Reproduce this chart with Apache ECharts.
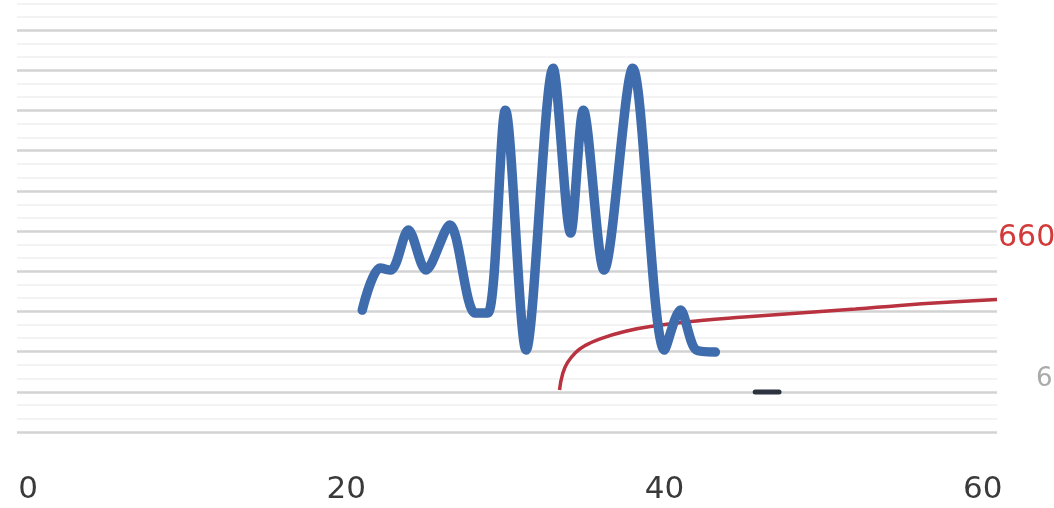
<!DOCTYPE html>
<html>
<head>
<meta charset="utf-8">
<script src="https://cdn.jsdelivr.net/npm/echarts@6/dist/echarts.min.js"></script>
<style>
  html, body { margin: 0; padding: 0; background: #ffffff; }
  #chart { width: 1054px; height: 508px; }
</style>
</head>
<body>
<div id="chart"></div>
<script>
// x-axis tick labels
var xTicks = [0, 20, 40, 60];

// Blue measurement trace: [x, y]
var blueX = [21.0, 22.1, 22.8, 23.9, 25.0, 26.5, 28.1, 28.9, 30.0, 31.3, 33.0, 34.1, 34.9, 36.2, 38.0, 40.0, 41.0, 42.0, 43.2];
var blueY = [607, 816, 806, 1005, 806, 1030, 592, 592, 1602, 408, 1810, 990, 1602, 806, 1810, 408, 607, 408, 398];

// Red cumulative curve: [x, y]
var redX = [33.4, 33.6, 33.9, 34.4, 35.0, 36.0, 37.5, 39.1, 42.3, 45.0, 48.5, 52.0, 54.8, 58.0, 60.9];
var redY = [209, 290, 345, 395, 430, 465, 500, 525, 555, 572, 592, 612, 630, 647, 660];

// Short dark segment
var darkX = [45.7, 47.2];
var darkY = [199, 199];

function pairs(xs, ys) {
  return xs.map(function (x, i) { return [x, ys[i]]; });
}

var chart = echarts.init(document.getElementById('chart'));

chart.setOption({
  backgroundColor: '#ffffff',
  animation: false,
  grid: { left: 17, right: 57, top: -10, bottom: 76, outerBoundsMode: 'none' },
  xAxis: {
    type: 'value',
    min: -0.7,
    max: 60.9,
    axisLine: { show: false },
    axisTick: { show: false },
    splitLine: { show: false },
    axisLabel: {
      customValues: xTicks,
      fontFamily: 'DejaVu Sans',
      fontSize: 31,
      color: '#3a3a3a',
      margin: 42
    }
  },
  yAxis: {
    type: 'value',
    min: 0,
    max: 2200,
    interval: 200,
    axisLine: { show: false },
    axisTick: { show: false },
    axisLabel: { show: false },
    splitLine: { lineStyle: { color: '#d3d3d3', width: 2.5 } },
    minorTick: { show: false, splitNumber: 3 },
    minorSplitLine: { show: true, lineStyle: { color: '#f0f0f0', width: 1.5 } }
  },
  graphic: [{
    type: 'text',
    left: 1036,
    top: 366,
    style: { text: '6', fontSize: 26, fontFamily: 'DejaVu Sans', fill: '#aaaaaa' }
  }],
  series: [
    {
      type: 'line',
      data: pairs(redX, redY),
      smooth: 0.5,
      showSymbol: false,
      lineStyle: { color: '#b8323f', width: 3.5 },
      endLabel: {
        show: true,
        formatter: function (p) { return p.value[1]; },
        color: '#d23a3a',
        fontSize: 30,
        fontFamily: 'DejaVu Sans',
        distance: 0,
        offset: [1, -61]
      },
      z: 2
    },
    {
      type: 'line',
      data: pairs(blueX, blueY),
      smooth: 0.3,
      showSymbol: false,
      lineStyle: { color: '#3e6cad', width: 9.5, cap: 'round', join: 'round' },
      z: 3
    },
    {
      type: 'line',
      data: pairs(darkX, darkY),
      showSymbol: false,
      lineStyle: { color: '#2d3440', width: 5, cap: 'round' },
      z: 3
    }
  ]
});
</script>
</body>
</html>
